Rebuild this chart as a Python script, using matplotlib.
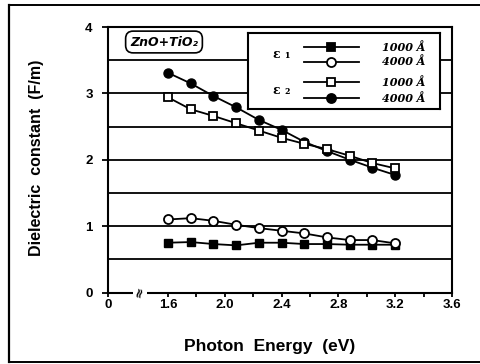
import matplotlib
matplotlib.use("Agg")
import matplotlib.pyplot as plt
from matplotlib.patches import Rectangle
from matplotlib.lines import Line2D

# ---- data ----
energy = [1.60, 1.76, 1.92, 2.08, 2.24, 2.40, 2.56, 2.72, 2.88, 3.04, 3.20]
eps1_1000 = [0.75, 0.76, 0.73, 0.71, 0.75, 0.75, 0.73, 0.73, 0.72, 0.72, 0.72]
eps1_4000 = [1.10, 1.12, 1.08, 1.02, 0.97, 0.93, 0.89, 0.83, 0.79, 0.79, 0.74]
eps2_1000 = [2.94, 2.76, 2.66, 2.55, 2.44, 2.33, 2.24, 2.16, 2.06, 1.95, 1.87]
eps2_4000 = [3.31, 3.15, 2.96, 2.79, 2.60, 2.45, 2.27, 2.13, 2.00, 1.88, 1.77]
xtick_vals = [1.6, 2.0, 2.4, 2.8, 3.2, 3.6]
xtick_labels = ["1.6", "2.0", "2.4", "2.8", "3.2", "3.6"]
ytick_vals = [0, 1, 2, 3, 4]
ytick_labels = ["0", "1", "2", "3", "4"]
legend_labels = ["1000 Å", "4000 Å", "1000 Å", "4000 Å"]

W, H = 480, 364
fig = plt.figure(figsize=(W / 100, H / 100), dpi=100)
fig.patch.set_facecolor("white")

# outer frame (left, top, bottom)
fig.add_artist(Line2D([9 / W, 9 / W], [1 - 5 / H, 1 - 362 / H], color="black", lw=1.6, transform=fig.transFigure))
fig.add_artist(Line2D([9 / W, 1.0], [1 - 5 / H, 1 - 5 / H], color="black", lw=1.4, transform=fig.transFigure))
fig.add_artist(Line2D([9 / W, 1.0], [1 - 362 / H, 1 - 362 / H], color="black", lw=1.4, transform=fig.transFigure))

left, right, top, bottom = 108, 452, 27, 292.5
ax = fig.add_axes([left / W, 1 - bottom / H, (right - left) / W, (bottom - top) / H])

# broken x-axis: "0" placed at a virtual position left of 1.6
x_zero = 1.6 - (168 - 108) / 142.0
ax.set_xlim(x_zero, 3.6)
ax.set_ylim(0, 4)

for yv in [0.5, 1.0, 1.5, 2.0, 2.5, 3.0, 3.5]:
    ax.axhline(yv, color="black", lw=1.3, zorder=1)

ax.plot(energy, eps1_1000, "-s", color="black", mfc="black", mec="black", ms=6, lw=1.3, zorder=3)
ax.plot(energy, eps1_4000, "-o", color="black", mfc="white", mec="black", ms=6.5, mew=1.3, lw=1.3, zorder=4)
ax.plot(energy, eps2_1000, "-s", color="black", mfc="white", mec="black", ms=6, mew=1.3, lw=1.3, zorder=4)
ax.plot(energy, eps2_4000, "-o", color="black", mfc="black", mec="black", ms=6.5, lw=1.3, zorder=3)

for s in ax.spines.values():
    s.set_linewidth(1.5)

ax.set_xticks([x_zero] + xtick_vals)
ax.set_xticklabels(["0"] + xtick_labels)
ax.set_xticks([1.8, 2.2, 2.6, 3.0, 3.4], minor=True)
ax.set_yticks(ytick_vals)
ax.set_yticklabels(ytick_labels)
ax.tick_params(axis="both", which="both", direction="out", length=3, width=1.3, labelsize=9.5)
ax.tick_params(axis="x", pad=2)
ax.tick_params(axis="y", length=4, pad=7)
for lab in ax.get_xticklabels() + ax.get_yticklabels():
    lab.set_fontweight("bold")
    lab.set_family("Liberation Sans")

# axis break symbol
ax.add_patch(Rectangle((1.355, -0.04), 0.095, 0.08, transform=ax.transData, facecolor="white",
                       edgecolor="none", clip_on=False, zorder=5))
ax.text(1.40, 0.0, "≈", rotation=75, ha="center", va="center", fontsize=9.5, fontweight="bold",
        clip_on=False, zorder=6)

fig.text(270 / W, 1 - 346 / H, "Photon  Energy  (eV)", ha="center", va="center",
         fontsize=12.5, fontweight="bold", family="Liberation Sans")
fig.text(37 / W, 1 - 158 / H, "Dielectric  constant  (F/m)", ha="center", va="center", rotation=90,
         fontsize=11.5, fontweight="bold", family="Liberation Sans")

# sample label
fig.text(164 / W, 1 - 42 / H, "ZnO+TiO₂", ha="center", va="center",
         fontsize=9, fontweight="bold", style="italic", family="DejaVu Sans", zorder=7,
         bbox=dict(boxstyle="round,pad=0.35,rounding_size=0.6", fc="white", ec="black", lw=1.2))

# legend box (manual)
lax = fig.add_axes([248 / W, 1 - 109 / H, (440 - 248) / W, (109 - 33) / H])
lax.set_xlim(0, 1)
lax.set_ylim(0, 1)
lax.set_xticks([])
lax.set_yticks([])
lax.set_facecolor("white")
for s in lax.spines.values():
    s.set_linewidth(1.5)
rows = [0.81, 0.62, 0.35, 0.14]
styles = [("s", "black", 6), ("o", "white", 6.5), ("s", "white", 6), ("o", "black", 6.5)]
for yy, (mk, fc, msz), lab in zip(rows, styles, legend_labels):
    lax.plot([0.29, 0.58], [yy, yy], color="black", lw=1.3)
    lax.plot([0.43], [yy], marker=mk, mfc=fc, mec="black", mew=1.3, ms=msz, color="black")
    lax.text(0.70, yy, lab, ha="left", va="center", fontsize=8, fontweight="bold",
             style="italic", family="DejaVu Serif")
lax.text(0.13, 0.72, "ε ₁", ha="left", va="center", fontsize=9, fontweight="bold", family="DejaVu Serif")
lax.text(0.13, 0.25, "ε ₂", ha="left", va="center", fontsize=9, fontweight="bold", family="DejaVu Serif")

fig.savefig("out.png", dpi=100)
